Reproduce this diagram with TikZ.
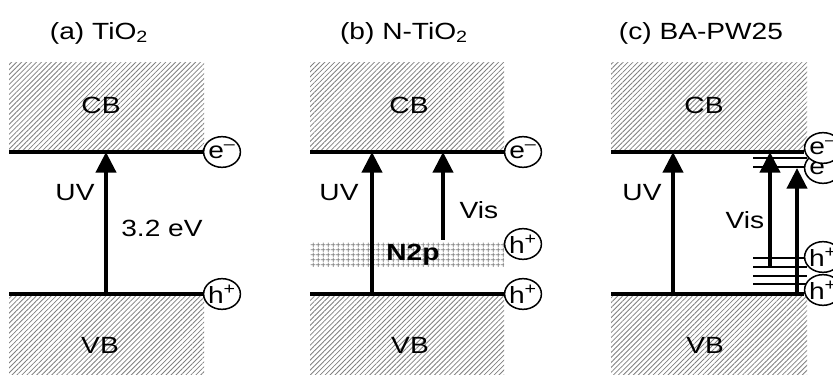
\documentclass[tikz,border=0pt]{standalone}
\usepackage{fontspec}
\setmainfont{Liberation Sans}
\usetikzlibrary{arrows.meta, patterns.meta}

\tikzset{
  txt/.style={xscale=1.2, inner sep=0pt, font=\fontsize{20}{24}\selectfont},
  band/.style={pattern={Lines[angle=45,distance=3pt,line width=0.7pt]}, pattern color=black!50},
  nband/.style={pattern={Hatch[angle=0,distance=4pt,line width=0.6pt]}, pattern color=black!50},
  level/.style={line width=2.6pt},
  trap/.style={line width=2.3pt},
  excite/.style={line width=3.6pt, -{Triangle[width=0.6cm,length=0.62cm]}},
  carrier/.style={txt, circle, draw, line width=1.3pt, fill=white, minimum size=0.92cm},
}

\begin{document}
\begin{tikzpicture}[x=0.03cm, y=-0.03cm]
  \useasboundingbox (0,0) rectangle (833,377);

  % (a) TiO2
  \fill[band] (9,63) rectangle (204,152);
  \fill[band] (9,294) rectangle (204,375);
  \node[txt] (a title) at (99,33) {(a) TiO\textsubscript{2}};
  \node[txt] (a cb) at (101,105) {CB};
  \node[txt] (a vb) at (100,345) {VB};
  \coordinate (a cb l) at (9,152);
  \coordinate (a vb l) at (9,294);
  \coordinate (a uv s) at (106,294);
  \coordinate (a uv e) at (106,152);
  \node[carrier] (a e) at (222,152) {e\textsuperscript{\textendash}};
  \node[carrier] (a h) at (222,294) {h\textsuperscript{+}};
  \draw[level] (a cb l) -- (a e);
  \draw[level] (a vb l) -- (a h);
  \draw[excite] (a uv s) -- (a uv e);
  \node[txt] (a uv) at (75,193) {UV};
  \node[txt] (a gap) at (162,228) {3.2 eV};

  % (b) N-TiO2
  \fill[band] (310,63) rectangle (504,152);
  \fill[band] (310,294) rectangle (504,375);
  \fill[nband] (310,243) rectangle (504,267);
  \node[txt] (b title) at (404,33) {(b) N-TiO\textsubscript{2}};
  \node[txt] (b cb) at (409,105) {CB};
  \node[txt] (b vb) at (410,345) {VB};
  \node[txt, font=\fontsize{20}{24}\selectfont\bfseries] (b n2p) at (413,255) {N2p};
  \coordinate (b cb l) at (310,152);
  \coordinate (b vb l) at (310,294);
  \coordinate (b uv s) at (372,294);
  \coordinate (b uv e) at (372,152);
  \coordinate (b vis s) at (443,240);
  \coordinate (b vis e) at (443,152);
  \node[carrier] (b e) at (523,152) {e\textsuperscript{\textendash}};
  \node[carrier] (b hn) at (523,244) {h\textsuperscript{+}};
  \node[carrier] (b h) at (523,294) {h\textsuperscript{+}};
  \draw[level] (b cb l) -- (b e);
  \draw[level] (b vb l) -- (b h);
  \draw[excite] (b uv s) -- (b uv e);
  \draw[excite] (b vis s) -- (b vis e);
  \node[txt] (b uv) at (339,193) {UV};
  \node[txt] (b vis) at (479,210) {Vis};

  % (c) BA-PW25
  \fill[band] (611,63) rectangle (807,152);
  \fill[band] (611,294) rectangle (807,375);
  \node[txt] (c title) at (701,33) {(c) BA-PW25};
  \node[txt] (c cb) at (704,105) {CB};
  \node[txt] (c vb) at (705,345) {VB};
  \foreach \y in {158,167,258,267,276,284}
    \draw[trap] (753,\y) -- (807,\y);
  \coordinate (c cb l) at (611,152);
  \coordinate (c vb l) at (611,294);
  \coordinate (c uv s) at (673,294);
  \coordinate (c uv e) at (673,152);
  \coordinate (c vis1 s) at (770,267);
  \coordinate (c vis1 e) at (770,152);
  \coordinate (c vis2 s) at (797,294);
  \coordinate (c vis2 e) at (797,168);
  \node[carrier] (c e2) at (823,168) {e\textsuperscript{\textendash}};
  \node[carrier] (c e1) at (823,148) {e\textsuperscript{\textendash}};
  \node[carrier] (c h1) at (823,257) {h\textsuperscript{+}};
  \node[carrier] (c h2) at (823,290) {h\textsuperscript{+}};
  \draw[level] (c cb l) -- (c cb l -| c e1.west);
  \draw[level] (c vb l) -- (c vb l -| c h2.west);
  \draw[excite] (c uv s) -- (c uv e);
  \draw[excite] (c vis1 s) -- (c vis1 e);
  \draw[excite] (c vis2 s) -- (c vis2 e);
  \node[txt] (c uv) at (642,193) {UV};
  \node[txt] (c vis) at (745,220) {Vis};
\end{tikzpicture}
\end{document}
